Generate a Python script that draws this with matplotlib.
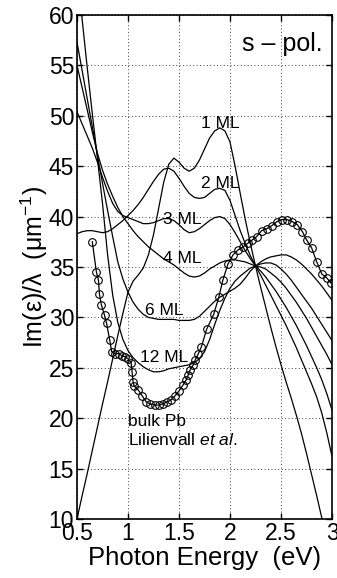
import numpy as np
import matplotlib
matplotlib.use("Agg")
import matplotlib.pyplot as plt

plt.rcParams["font.family"] = ["Liberation Sans", "DejaVu Sans"]
plt.rcParams["mathtext.fontset"] = "custom"
plt.rcParams["mathtext.rm"] = "Liberation Sans"
plt.rcParams["mathtext.it"] = "Liberation Sans:italic"

# photon energy grid (eV) shared by the film curves
energy = np.round(np.arange(0.5, 3.001, 0.05), 2)

ml1 = [10.0, 12.3, 14.5, 16.8, 19.1, 21.4, 23.6, 25.9, 28.2, 30.4,
       32.5, 33.6, 34.2, 34.9, 36.2, 38.2, 40.8, 43.4, 45.2, 45.8,
       45.4, 44.8, 44.5, 44.8, 45.6, 46.7, 47.8, 48.5, 48.8, 48.5,
       47.4, 45.0, 42.3, 39.7, 37.3, 35.1, 33.0, 31.0, 29.0, 27.1,
       25.3, 23.6, 22.0, 20.3, 18.5, 16.5, 14.4, 12.3, 10.1, 7.8, 5.5]
ml2 = [38.3, 38.5, 38.6, 38.6, 38.5, 38.4, 38.5, 38.8, 39.2, 39.6,
       40.1, 40.6, 41.2, 41.9, 42.7, 43.5, 44.2, 44.7, 44.8, 44.5,
       43.8, 43.0, 42.3, 41.9, 41.8, 41.9, 42.3, 42.7, 42.8, 42.6,
       41.6, 40.1, 38.6, 37.3, 36.1, 35.1, 34.2, 33.2, 32.2, 31.2,
       30.2, 29.2, 28.1, 27.0, 25.8, 24.6, 23.4, 22.1, 20.5, 18.5, 16.2]
ml3 = [50.4, 49.2, 48.0, 46.8, 45.4, 43.9, 42.5, 41.3, 40.5, 40.1,
       39.9, 39.7, 39.5, 39.3, 39.3, 39.4, 39.6, 39.8, 39.8, 39.6,
       39.2, 38.7, 38.4, 38.5, 38.8, 39.2, 39.6, 39.9, 40.0, 39.8,
       39.2, 38.4, 37.5, 36.6, 35.8, 35.1, 34.6, 34.0, 33.3, 32.6,
       31.8, 31.0, 30.1, 29.2, 28.2, 27.2, 26.1, 25.0, 23.8, 22.4, 20.8]
ml4 = [55.0, 52.8, 50.6, 48.4, 46.3, 44.6, 43.2, 42.0, 40.9, 40.0,
       39.3, 38.6, 38.0, 37.5, 37.0, 36.6, 36.2, 35.8, 35.5, 35.2,
       34.8, 34.4, 34.1, 34.0, 34.1, 34.4, 34.8, 35.1, 35.4, 35.6,
       35.7, 35.7, 35.6, 35.5, 35.3, 35.1, 35.0, 34.8, 34.4, 34.0,
       33.5, 32.9, 32.2, 31.5, 30.7, 29.9, 29.0, 28.1, 27.2, 26.3, 25.3]
ml6 = [57.3, 54.5, 51.7, 48.9, 46.1, 43.3, 40.6, 38.0, 35.5, 33.8,
       32.5, 31.5, 30.8, 30.3, 30.0, 29.9, 29.8, 29.8, 29.8, 29.8,
       29.7, 29.7, 29.7, 29.8, 30.1, 30.6, 31.1, 31.6, 32.0, 32.3,
       32.6, 32.9, 33.3, 33.9, 34.6, 35.1, 35.3, 35.4, 35.4, 35.2,
       34.8, 34.3, 33.7, 33.0, 32.3, 31.6, 30.9, 30.1, 29.3, 28.5, 27.7]
ml12 = [66.0, 59.6, 54.8, 50.2, 45.8, 41.3, 36.2, 32.2, 29.5, 27.8,
        26.7, 26.0, 25.5, 25.1, 24.8, 24.6, 24.6, 24.7, 24.9, 25.0,
        25.1, 25.2, 25.3, 25.5, 25.9, 26.6, 27.8, 29.3, 30.7, 31.9,
        32.9, 33.6, 34.1, 34.5, 34.9, 35.1, 35.5, 35.8, 36.0, 36.1,
        36.2, 36.2, 36.0, 35.7, 35.3, 34.8, 34.3, 33.7, 33.1, 32.4, 31.7]

# bulk Pb, Lilienvall et al.
bulk_energy = [0.65, 0.69, 0.71, 0.72, 0.74, 0.77, 0.79, 0.82, 0.84, 0.87,
               0.91, 0.94, 0.97, 1.00, 1.03, 1.04, 1.05, 1.06, 1.10, 1.14,
               1.18, 1.22, 1.26, 1.30, 1.34, 1.38, 1.42, 1.46, 1.50, 1.54,
               1.57, 1.59, 1.61, 1.64, 1.66, 1.69, 1.72, 1.77, 1.84, 1.89,
               1.93, 1.98, 2.03, 2.08, 2.13, 2.18, 2.22, 2.26, 2.31, 2.36,
               2.41, 2.46, 2.51, 2.56, 2.61, 2.66, 2.71, 2.75, 2.80, 2.85,
               2.90, 2.95, 2.99]
bulk_im = [37.5, 34.5, 33.7, 32.3, 31.2, 30.2, 29.4, 27.8, 26.6, 26.4,
           26.4, 26.2, 26.1, 25.9, 25.5, 24.6, 23.6, 23.2, 22.8, 22.2,
           21.6, 21.4, 21.3, 21.3, 21.4, 21.6, 21.8, 22.2, 22.7, 23.3,
           23.8, 24.3, 24.8, 25.3, 25.8, 26.4, 27.1, 28.8, 30.3, 32.0,
           33.7, 35.3, 36.2, 36.7, 37.0, 37.4, 37.7, 38.0, 38.6, 38.8,
           39.1, 39.5, 39.7, 39.7, 39.5, 39.2, 38.5, 37.7, 36.9, 35.5,
           34.3, 33.9, 33.4]

film_labels = ["1 ML", "2 ML", "3 ML", "4 ML", "6 ML", "12 ML"]
label_pos = [(1.72, 48.8), (1.72, 42.8), (1.34, 39.3),
             (1.345, 35.4), (1.167, 30.2), (1.118, 25.6)]

fig = plt.figure(figsize=(3.37, 5.78), dpi=100)
ax = fig.add_axes([0.2285, 0.1021, 0.7567, 0.872])

for curve in (ml1, ml2, ml3, ml4, ml6, ml12):
    ax.plot(energy, curve, color="k", lw=0.9)
ax.plot(bulk_energy, bulk_im, "-o", color="k", lw=0.9, ms=5.5,
        mfc="none", mew=0.8)

for text, (x, y) in zip(film_labels, label_pos):
    ax.text(x, y, text, fontsize=12.5, ha="left", va="baseline")
ax.text(1.003, 19.2, "bulk Pb", fontsize=12.5, ha="left", va="baseline")
ax.text(1.003, 17.3, "Lilienvall $\\it{et\\ al.}$", fontsize=12.5,
        ha="left", va="baseline")
ax.text(2.115, 56.4, "s \u2013 pol.", fontsize=18, ha="left", va="baseline")

ax.set_xlim(0.5, 3.0)
ax.set_ylim(10, 60)
ax.set_xticks([0.5, 1, 1.5, 2, 2.5, 3])
ax.set_xticklabels(["0.5", "1", "1.5", "2", "2.5", "3"])
ax.set_yticks(range(10, 61, 5))
ax.grid(True, color="0.25", linestyle=(0, (1, 2.5)), lw=0.7)
ax.tick_params(direction="in", length=4, width=1, top=True, right=True,
               labelsize=16.5, pad=2)
for spine in ax.spines.values():
    spine.set_linewidth(1.2)

ax.set_xlabel("Photon Energy  (eV)", fontsize=18.5, labelpad=1)
ax.set_ylabel("Im(\u03b5)/\u03bb  (\u03bcm$^{-1}$)", fontsize=18, labelpad=-1)

fig.savefig("out.png", dpi=100)
